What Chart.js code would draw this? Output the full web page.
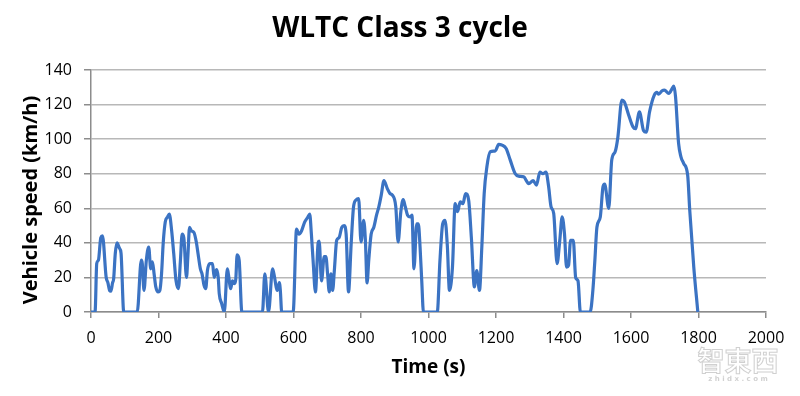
<!DOCTYPE html>
<html>
<head>
<meta charset="utf-8">
<title>WLTC Class 3 cycle</title>
<script src="https://cdn.jsdelivr.net/npm/chart.js@4/dist/chart.umd.min.js"></script>
<style>
  html, body { margin: 0; padding: 0; background: #fff; }
  #wrap { width: 800px; height: 396px; }
</style>
</head>
<body>
<div id="wrap"><canvas id="chart"></canvas></div>
<script>
// Time (s) and speed (km/h)
const times = [
  0, 12, 17, 22, 29, 34, 45, 50, 55, 59, 64, 67, 72, 77, 84, 89, 97,
  137, 149, 152, 157, 164, 171, 177, 182, 187, 192, 199, 204, 209, 214, 220,
  227, 232, 239, 245, 252, 259, 265, 270, 275, 283, 287, 292, 297, 305, 312,
  317, 324, 329, 335, 340, 345, 352, 360, 365, 372, 377, 380, 387, 395,
  404, 407, 414, 419, 425, 429, 433, 439, 447,
  508, 515, 526, 538, 542, 552, 558, 561, 565,
  599, 609, 616, 624, 633, 643, 648, 653, 658, 665, 673, 676, 683, 691, 696,
  701, 706, 711, 716, 721, 728, 735, 743, 750, 756, 763, 771, 778, 786, 793,
  800, 808, 813, 818, 823, 830, 838, 846, 853, 860, 868, 878, 886, 893, 903,
  910, 918, 925, 931, 938, 946, 951, 957, 965, 970, 975, 980, 985,
  1026, 1034, 1042, 1049, 1056, 1062, 1071, 1079, 1086, 1094, 1102, 1110,
  1119, 1127, 1136, 1143, 1151, 1158, 1165, 1173, 1183, 1198, 1208, 1218,
  1230, 1242, 1257, 1267, 1282, 1297, 1310, 1320, 1330, 1339, 1348, 1356,
  1363, 1371, 1381, 1389, 1396, 1403, 1409, 1415, 1421, 1429, 1436, 1443, 1450,
  1479, 1487, 1493, 1499, 1509, 1517, 1522, 1534, 1543, 1553, 1561, 1573,
  1580, 1593, 1606, 1613, 1625, 1637, 1645, 1655, 1669, 1677, 1682, 1692,
  1699, 1712, 1722, 1727, 1732, 1741, 1748, 1756, 1768, 1774, 1786, 1798
];
const speeds = [
  0, 0, 28, 30, 43, 44, 20, 17, 12.5, 12, 17, 19, 34, 40, 37, 34, 0,
  0, 30, 28, 12.5, 30, 37.6, 25, 29, 22, 14.5, 11.6, 12.5, 22, 40, 52,
  55, 56.6, 47, 34, 18, 13.5, 30, 45, 43, 20, 32, 49, 47, 46, 40.5,
  34, 25, 22, 15.4, 13.5, 24, 28, 28, 20, 24.5, 20, 10.6, 5, 0,
  25, 22, 13.5, 18, 16.4, 19, 33, 30, 0,
  0, 22, 0, 25, 22, 12.5, 17, 12.5, 0,
  0, 48, 45, 47, 52, 55, 56.6, 45, 30, 11.6, 40, 41, 18, 32, 32,
  22, 11.6, 22, 12.5, 24, 41.5, 43, 49, 50, 45, 11.6, 40, 61, 65, 65.6,
  40.5, 53, 41.5, 16.8, 30, 45, 49, 56, 61, 67.6, 76, 71.4, 68.5, 67.6, 61,
  40.5, 58, 65, 61, 56, 55, 56, 25, 51, 51, 37.6, 18, 0,
  0, 30, 51, 53, 37.6, 12.5, 26, 62.7, 58, 63.7, 62.7, 68.5,
  64.7, 43, 14.5, 24, 12.5, 37.6, 68.5, 84, 92.7, 93.2, 97, 96.5,
  94.6, 88, 80, 78.6, 78.2, 74.3, 76, 73.4, 81, 80, 81, 72.4,
  61, 57, 28, 41.5, 55, 45, 26, 27, 41.5, 41.5, 20, 18, 0,
  0, 12.5, 30, 49, 55, 72.4, 74, 60, 88, 92.7, 101, 122.6,
  121.6, 114, 107, 106, 115.8, 105, 104, 115.8, 125.5, 127, 126, 128,
  128.4, 126.4, 129.3, 130.7, 124.5, 97.5, 89.8, 86, 79, 59, 26, 0
];

const xTicks = [0, 200, 400, 600, 800, 1000, 1200, 1400, 1600, 1800, 2000];
const yTicks = [0, 20, 40, 60, 80, 100, 120, 140];

const titleText = "WLTC Class 3 cycle";
const xTitle = "Time (s)";
const yTitle = "Vehicle speed (km/h)";

const points = times.map((t, i) => ({ x: t, y: speeds[i] }));

// titles + watermark drawn by hand so they sit where the picture has them
const labelsPlugin = {
  id: "labels",
  afterDraw: chart => {
    const ctx = chart.ctx;
    const area = chart.chartArea;
    ctx.save();
    ctx.fillStyle = "#000";
    ctx.textAlign = "center";
    ctx.textBaseline = "alphabetic";

    ctx.font = "bold 28px 'Open Sans'";
    ctx.fillText(titleText, 400, 37);

    ctx.font = "bold 19px 'Open Sans'";
    ctx.fillText(xTitle, (area.left + area.right) / 2, 373);

    ctx.translate(36.5, 200);
    ctx.rotate(-Math.PI / 2);
    ctx.font = "bold 20px 'Open Sans'";
    ctx.fillText(yTitle, 0, 0);
    ctx.restore();

    // faint watermark, bottom right
    ctx.save();
    ctx.textAlign = "center";
    ctx.font = "bold 27px 'Noto Sans CJK SC'";
    ctx.lineWidth = 1;
    ctx.strokeStyle = "rgba(170,170,170,0.55)";
    ctx.fillStyle = "rgba(255,255,255,0.75)";
    ctx.fillText("智東西", 738, 371);
    ctx.strokeText("智東西", 738, 371);
    ctx.font = "bold 7px 'DejaVu Sans'";
    ctx.fillStyle = "rgba(190,190,190,0.7)";
    ctx.fillText("z h i d x . c o m", 738, 381);
    ctx.restore();
  }
};

chart = new Chart(document.getElementById("chart"), {
  type: "line",
  data: {
    datasets: [{
      data: points,
      borderColor: "#3b73c3",
      borderWidth: 3.2,
      pointRadius: 0,
      cubicInterpolationMode: "monotone",
      fill: false
    }]
  },
  options: {
    responsive: true,
    maintainAspectRatio: false,
    animation: false,
    layout: { padding: { top: 70, right: 34, bottom: 0, left: 0 } },
    plugins: {
      legend: { display: false },
      tooltip: { enabled: false }
    },
    scales: {
      x: {
        type: "linear",
        min: 0,
        max: 2000,
        afterBuildTicks: s => { s.ticks = xTicks.map(v => ({ value: v })); },
        afterFit: s => { s.height = 84; },
        grid: {
          drawOnChartArea: false,
          color: "#8c8c8c",
          lineWidth: 1.5,
          tickLength: 6,
          tickColor: "#8c8c8c"
        },
        border: { color: "#8c8c8c", width: 1.5 },
        ticks: {
          color: "#000",
          padding: 11,
          maxRotation: 0,
          callback: v => String(v),
          font: { family: "'Open Sans'", size: 16 }
        }
      },
      y: {
        min: 0,
        max: 140,
        afterBuildTicks: s => { s.ticks = yTicks.map(v => ({ value: v })); },
        afterFit: s => { s.width = 91; },
        grid: {
          color: "#b8b8b8",
          lineWidth: 1.5,
          tickLength: 7,
          tickColor: "#8c8c8c"
        },
        border: { color: "#8c8c8c", width: 1.5 },
        ticks: {
          color: "#000",
          padding: 12,
          callback: v => String(v),
          font: { family: "'Open Sans'", size: 16 }
        }
      }
    }
  },
  plugins: [labelsPlugin]
});
</script>
</body>
</html>
